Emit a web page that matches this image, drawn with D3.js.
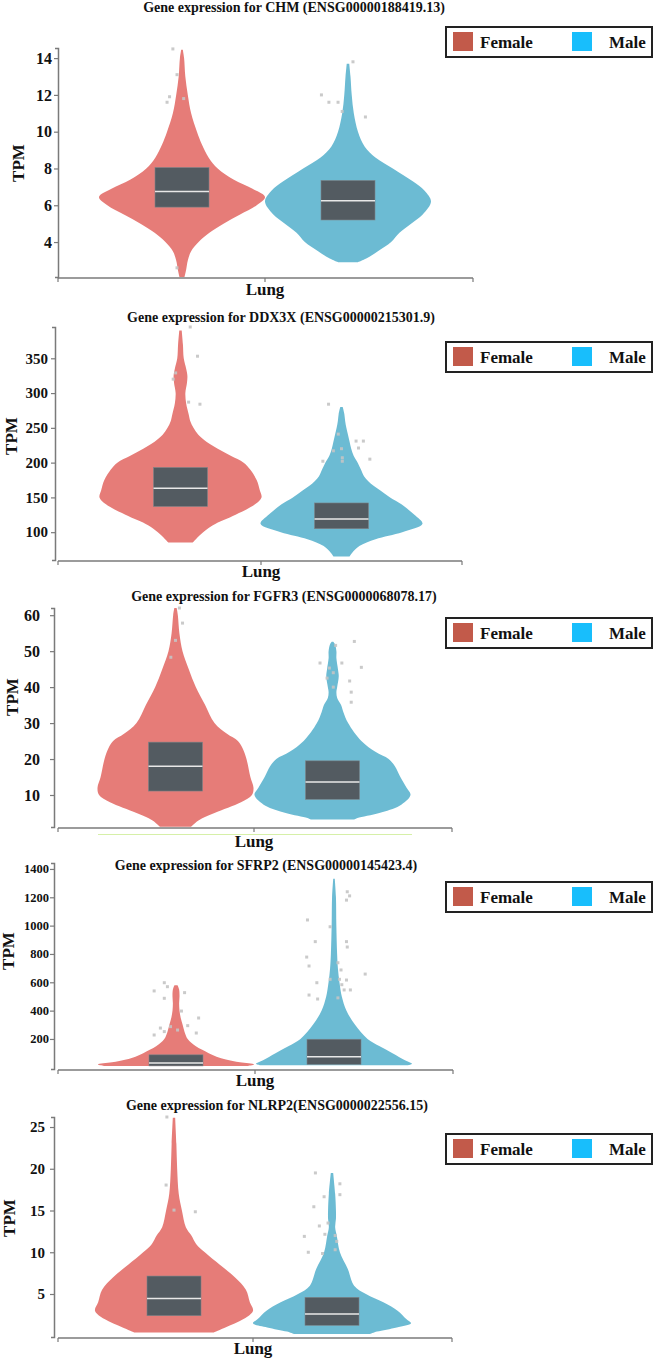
<!DOCTYPE html>
<html><head><meta charset="utf-8">
<script src="https://cdn.jsdelivr.net/npm/d3@7"></script>
<style>
html,body{margin:0;padding:0;background:#fff;}
svg text{font-family:"Liberation Serif","Times New Roman",serif;font-weight:bold;fill:#111;}
</style></head>
<body><svg id="c" width="654" height="1359"></svg>
<script>
// ---------- DATA ----------
const genes = ["CHM","DDX3X","FGFR3","SFRP2","NLRP2"];
const titles = [
  "Gene expression for CHM (ENSG00000188419.13)",
  "Gene expression for DDX3X (ENSG00000215301.9)",
  "Gene expression for FGFR3 (ENSG0000068078.17)",
  "Gene expression for SFRP2 (ENSG00000145423.4)",
  "Gene expression for NLRP2(ENSG0000022556.15)"
];
const groups = ["Female","Male"];
const tissue = "Lung";
const yLabel = "TPM";
const yDomains = [[2.1,14.55],[60,395],[1.1,62],[-12,1442],[-0.15,26.2]];
const tickValues = [
  [4,6,8,10,12,14],
  [100,150,200,250,300,350],
  [10,20,30,40,50,60],
  [200,400,600,800,1000,1200,1400],
  [5,10,15,20,25]
];
// violin profiles: [TPM value, relative half-width]
const femaleProfiles = [
  [[2.1,0.03],[2.5,0.05],[3,0.07],[3.5,0.11],[4,0.2],[4.5,0.33],[5,0.5],[5.5,0.7],[6,0.9],[6.45,1.0],[6.9,0.85],[7.4,0.62],[8,0.43],[8.6,0.32],[9.3,0.24],[10,0.18],[11,0.11],[12,0.07],[13,0.04],[14,0.025],[14.45,0.01]],
  [[85,0.15],[90,0.19],[100,0.28],[110,0.4],[125,0.68],[140,0.92],[150,1.0],[160,0.98],[175,0.94],[190,0.86],[200,0.78],[210,0.62],[220,0.46],[230,0.32],[240,0.22],[250,0.16],[260,0.12],[270,0.1],[285,0.07],[300,0.06],[315,0.08],[325,0.085],[335,0.07],[350,0.04],[370,0.03],[390,0.015]],
  [[1.2,0.2],[3,0.3],[5,0.5],[8,0.84],[10,0.98],[12,1.0],[15,0.96],[20,0.91],[23,0.86],[25,0.8],[27,0.66],[30,0.5],[35,0.38],[40,0.26],[45,0.17],[50,0.09],[55,0.05],[60,0.03],[62,0.015]],
  [[10,0.92],[20,1.0],[35,0.82],[55,0.64],[75,0.52],[100,0.42],[125,0.33],[150,0.25],[200,0.15],[250,0.11],[300,0.085],[350,0.06],[400,0.045],[450,0.04],[500,0.045],[550,0.04],[580,0.02]],
  [[0.4,0.5],[1,0.65],[2,0.88],[3,1.0],[4,0.96],[5.5,0.91],[7,0.77],[8.5,0.58],[10,0.39],[11,0.28],[12,0.22],[13,0.15],[15,0.1],[17,0.06],[20,0.04],[23,0.03],[26.1,0.015]]
];
const maleProfiles = [
  [[2.9,0.12],[3.1,0.22],[3.5,0.36],[4,0.52],[4.5,0.62],[5,0.76],[5.5,0.9],[6.2,1.0],[6.8,0.92],[7.3,0.78],[8,0.54],[8.6,0.33],[9.2,0.2],[10,0.12],[11,0.07],[12,0.045],[13,0.03],[13.7,0.015]],
  [[65,0.1],[70,0.13],[80,0.22],[90,0.42],[100,0.75],[112,1.0],[125,0.9],[140,0.74],[150,0.6],[160,0.48],[170,0.36],[180,0.28],[190,0.24],[200,0.2],[210,0.15],[220,0.12],[230,0.1],[240,0.08],[250,0.06],[260,0.045],[270,0.035],[280,0.015]],
  [[3.2,0.28],[3.6,0.32],[5,0.6],[7,0.86],[10,1.0],[12,0.95],[15,0.87],[18,0.8],[20,0.72],[22,0.55],[25,0.37],[30,0.2],[33,0.14],[35,0.11],[37,0.06],[38.5,0.05],[40,0.06],[43,0.08],[45,0.07],[48,0.05],[50,0.05],[52,0.03],[52.6,0.01]],
  [[15,0.95],[25,1.0],[50,0.91],[100,0.75],[150,0.58],[200,0.43],[300,0.27],[400,0.16],[500,0.1],[600,0.07],[700,0.05],[800,0.04],[1000,0.03],[1200,0.025],[1330,0.01]],
  [[0.2,0.48],[0.5,0.57],[1,0.82],[1.5,1.0],[2,0.94],[3,0.83],[4,0.65],[5,0.43],[6,0.28],[8,0.2],[10,0.1],[12,0.06],[13,0.04],[14,0.05],[15,0.05],[17,0.04],[19.5,0.015]]
];
// boxes: [Q1, median, Q3]
const femaleBoxes = [[5.9,6.75,8.05],[137,163,193],[11.1,18,24.7],[10,30,88],[2.4,4.45,7.15]];
const maleBoxes   = [[5.2,6.25,7.35],[105,119,142],[8.8,13.6,19.5],[21,75,198],[1.25,2.6,4.6]];
// outliers: [jitter (relative), TPM value]
const femaleOutliers = [
  [[-0.11,14.5],[-0.06,13.1],[-0.15,11.9],[-0.18,11.6],[0.02,11.8],[-0.06,2.6]],
  [[0.12,395],[0.21,353],[-0.09,320],[-0.06,329],[0.1,287],[0.24,284]],
  [[0.05,62],[0.09,57.8],[-0.06,48.3],[0,53]],
  [[-0.15,597],[-0.11,569],[-0.28,539],[0.11,527],[-0.15,487],[0.07,397],[-0.2,277],[-0.15,252],[-0.07,287],[-0.28,228],[0.15,294],[0.29,348],[0.26,242],[0.02,263]],
  [[-0.09,26.2],[-0.1,18.05],[0.27,14.85],[0,15.05]]
];
const maleOutliers = [
  [[-0.32,12.0],[-0.23,11.6],[-0.12,11.6],[-0.07,11.1],[0.21,10.8],[0.06,13.8]],
  [[-0.16,284],[-0.04,241],[-0.1,217],[0,220],[-0.23,202],[0.01,202],[0.18,231],[0.27,231],[0.21,221],[0.35,205],[0.01,207]],
  [[0.28,52.7],[0.04,51.6],[-0.16,46.7],[0.12,46.7],[-0.04,45.3],[0.37,45.5],[0.01,44],[-0.07,42.5],[0.22,41.7],[0.01,40],[0.24,38.6],[0.24,35.8]],
  [[0.17,1239],[0.2,1210],[0.16,1180],[-0.34,1040],[-0.05,992],[-0.24,887],[0.16,887],[0.17,849],[-0.35,778],[-0.32,715],[0.05,738],[0.09,687],[0.4,658],[-0.05,621],[0.07,621],[0.16,616],[-0.22,597],[0.1,583],[0.21,546],[0.13,546],[-0.32,510],[-0.21,482],[0.05,490]],
  [[-0.21,19.5],[0.1,18.2],[0.1,16.9],[-0.1,16.65],[-0.23,15.45],[-0.16,13.15],[-0.05,13.5],[-0.35,11.9],[-0.09,12.15],[0.04,12],[0.06,11.3],[-0.3,10],[-0.12,9.85],[0.04,10.3]]
];

// ---------- LAYOUT ----------
const layout = [
  {titleX:294,titleY:12, top:48, bottom:277, axisY:278, yAxisX:58, labelR:52, xc:265, off:83, hw:83, xEnd:473, legY:27, tpmX:18, tpmY:163, lungY:295, tf:16},
  {titleX:281,titleY:322,top:327,bottom:560, axisY:561, yAxisX:55, labelR:48, xc:261, off:80.5, hw:81, xEnd:462, legY:342, tpmX:11, tpmY:436, lungY:577, tf:15},
  {titleX:284,titleY:601,top:608,bottom:827, axisY:828, yAxisX:54, labelR:40, xc:254, off:78.5, hw:78, xEnd:452, legY:618, tpmX:12, tpmY:697, lungY:847, tf:16},
  {titleX:266,titleY:870,top:863,bottom:1069,axisY:1070,yAxisX:54, labelR:49, xc:255, off:79, hw:78, xEnd:453, legY:882, tpmX:8, tpmY:951, lungY:1086, tf:12.5},
  {titleX:277,titleY:1110,top:1117,bottom:1337,axisY:1338,yAxisX:54, labelR:45, xc:253, off:79, hw:79, xEnd:452, legY:1134, tpmX:9, tpmY:1218, lungY:1354, tf:15}
];
const violinColor = {Female:"#E67C78", Male:"#6CBBD3"};
const swatchColor = {Female:"#C25A4A", Male:"#18BEFC"};
const axisColor = "#7a7a7a";

const svg = d3.select("#c");

genes.forEach((g,i)=>{
  const L = layout[i];
  const gp = svg.append("g");
  const y = d3.scaleLinear().domain(yDomains[i]).range([L.bottom, L.top]);
  const x = d3.scalePoint().domain(groups).range([L.xc - L.off, L.xc + L.off]);
  const w = d3.scaleLinear().domain([0,1]).range([0, L.hw]);

  // title
  gp.append("text").attr("x",L.titleX).attr("y",L.titleY).attr("text-anchor","middle")
    .attr("font-size",14).text(titles[i]);

  // y axis
  const yAxis = d3.axisLeft(y).tickValues(tickValues[i]).tickFormat(d3.format("d"))
    .tickSize(4).tickSizeOuter(3).tickPadding(0);
  const ya = gp.append("g").attr("transform",`translate(${L.yAxisX},0)`).call(yAxis);
  ya.select(".domain").attr("stroke",axisColor).attr("stroke-width",1.5);
  ya.selectAll(".tick line").attr("stroke",axisColor).attr("stroke-width",1.2);
  ya.selectAll(".tick text").attr("x", L.labelR - L.yAxisX).attr("font-size",L.tf)
    .attr("font-family","Liberation Serif").attr("font-weight","bold").attr("fill","#111");

  // x axis
  gp.append("line").attr("x1",58).attr("x2",L.xEnd).attr("y1",L.axisY).attr("y2",L.axisY)
    .attr("stroke",axisColor).attr("stroke-width",1.5);
  [58, L.xc, L.xEnd].forEach(tx=>{
    gp.append("line").attr("x1",tx).attr("x2",tx).attr("y1",L.axisY).attr("y2",L.axisY+4)
      .attr("stroke",axisColor).attr("stroke-width",1.2);
  });
  gp.append("text").attr("x",L.xc).attr("y",L.lungY).attr("text-anchor","middle")
    .attr("font-size",17).text(tissue);
  gp.append("text").attr("transform",`translate(${L.tpmX + 6},${L.tpmY}) rotate(-90)`)
    .attr("text-anchor","middle").attr("font-size",17).text(yLabel);

  // violins
  const profiles = {Female: femaleProfiles[i], Male: maleProfiles[i]};
  const boxes = {Female: femaleBoxes[i], Male: maleBoxes[i]};
  const outs = {Female: femaleOutliers[i], Male: maleOutliers[i]};
  groups.forEach(grp=>{
    const cx = x(grp);
    const area = d3.area()
      .y(d=>y(d[0]))
      .x0(d=>cx - w(d[1]))
      .x1(d=>cx + w(d[1]))
      .curve(d3.curveCatmullRom.alpha(0.5));
    gp.append("path").datum(profiles[grp]).attr("d",area).attr("fill",violinColor[grp]);
  });
  groups.forEach(grp=>{
    const cx = x(grp);
    const [q1,med,q3] = boxes[grp];
    gp.append("rect").attr("x",cx-27).attr("width",54)
      .attr("y",y(q3)).attr("height",y(q1)-y(q3))
      .attr("fill","#535B61").attr("stroke","#7d8489").attr("stroke-width",0.6);
    gp.append("line").attr("x1",cx-27).attr("x2",cx+27).attr("y1",y(med)).attr("y2",y(med))
      .attr("stroke","#e8e8e8").attr("stroke-width",1.5);
  });
  groups.forEach(grp=>{
    const cx = x(grp);
    gp.selectAll(null).data(outs[grp]).enter().append("rect")
      .attr("x",d=>cx + w(d[0]) - 1.5).attr("y",d=>y(d[1]) - 1.5)
      .attr("width",3).attr("height",3).attr("fill","#c4c4c4").attr("opacity",0.9);
  });

  // legend
  const lg = gp.append("g").attr("transform",`translate(446,${L.legY})`);
  lg.append("rect").attr("x",0).attr("y",0).attr("width",206).attr("height",30)
    .attr("fill","#fff").attr("stroke","#222").attr("stroke-width",2);
  const lx = {Female:7, Male:126};
  const tx = {Female:34, Male:163};
  groups.forEach(grp=>{
    lg.append("rect").attr("x",lx[grp]).attr("y",5).attr("width",20).attr("height",19)
      .attr("fill",swatchColor[grp]);
    lg.append("text").attr("x",tx[grp]).attr("y",21).attr("font-size",17).text(grp);
  });
});

// faint decorative line under FGFR3 axis
svg.append("line").attr("x1",98).attr("x2",412).attr("y1",834.5).attr("y2",834.5)
  .attr("stroke","#d6f0a8").attr("stroke-width",1.2);
</script></body></html>
